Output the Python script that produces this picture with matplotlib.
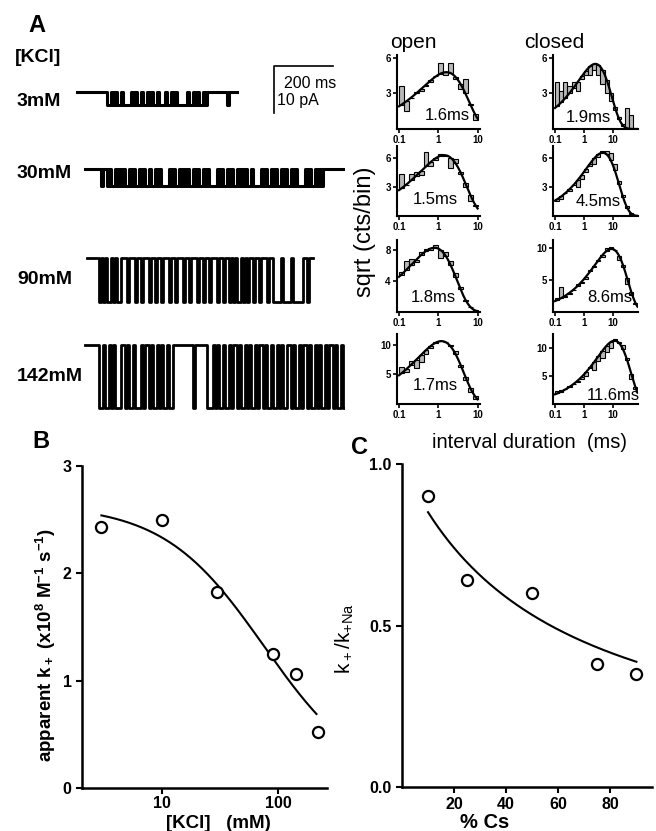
import numpy as np
import matplotlib
matplotlib.use('Agg')
import matplotlib.pyplot as plt
from matplotlib.patches import Rectangle

plt.rcParams['font.family'] = ['Liberation Sans', 'DejaVu Sans']
plt.rcParams['mathtext.default'] = 'regular'

W, H = 656, 831

# ---------------- data ----------------
# panel A, single-channel records (1 = upper level, 0 = lower level, 2 px per char)
CONC_LABELS = ['3mM', '30mM', '90mM', '142mM']
AMP_PA = [2.8, 3.6, 9.4, 13.4]
TRACES = [
    "111111111111111"
    "00101001000010100100101001000100101000001001010010"
    "111111111101111",
    "11111111"
    "0110100101" "0100101001" "0100100101" "0000101001" "0101001010"
    "0101000010" "1001010010" "1010010000" "1010010100" "1010010100"
    "0010100101" "0"
    "11111111111",
    "111111"
    "010100101001" "11011101101110" "1101101110110111011011101"
    "10110111011011" "0101001010" "110110111011" "000010000100000"
    "11011",
    "1111111"
    "0010010100" "0110100100" "0101101001" "010010011"
    "111111110111111"
    "0001010010" "0101101001" "0100101101" "0010010100" "1101001011"
    "0100101001" "011010010",
]

# dwell-time histograms, sqrt(counts/bin)
OPEN_COUNTS = [
    [3.6, 1.5, 2.6, 3.1, 3.2, 3.6, 4.0, 4.5, 5.6, 4.6, 5.6, 4.2, 3.4, 4.2, 2.0, 0.8],
    [4.4, 3.2, 4.4, 4.6, 4.2, 6.6, 5.2, 5.8, 6.4, 6.2, 5.0, 5.9, 4.4, 3.0, 1.6, 1.0],
    [5.2, 6.6, 6.8, 6.4, 7.8, 8.2, 8.0, 8.7, 7.0, 7.8, 6.6, 5.0, 3.2, 1.4, 0.6, 0.0],
    [6.3, 5.4, 7.3, 6.0, 7.0, 8.4, 9.4, 10.4, 10.6, 10.4, 10.0, 9.0, 6.2, 4.0, 2.0, 0.8],
]
CLOSED_COUNTS = [
    [4.0, 3.2, 4.0, 3.6, 4.0, 3.2, 4.2, 4.6, 4.6, 5.0, 4.6, 3.8, 3.0, 2.4, 1.6, 1.0, 0.4, 1.8, 1.2, 0.0],
    [1.6, 1.8, 2.4, 2.6, 3.2, 3.0, 3.9, 4.6, 5.2, 5.4, 6.2, 6.8, 6.8, 6.6, 5.4, 3.6, 2.2, 1.0, 0.3, 0.0],
    [2.2, 4.0, 2.4, 2.8, 3.4, 4.4, 4.6, 5.2, 6.6, 7.0, 8.0, 8.6, 10.0, 10.2, 9.8, 8.2, 7.0, 4.4, 2.6, 1.2],
    [2.4, 2.5, 2.6, 3.2, 3.6, 4.0, 4.4, 5.0, 6.4, 6.0, 7.6, 8.2, 9.2, 10.0, 11.6, 11.0, 10.6, 8.2, 4.4, 2.6],
]
# fitted curves: (peak time ms, peak height)
OPEN_FIT = [(1.6, 4.8), (1.4, 6.3), (0.8, 8.3), (1.2, 10.6)]
CLOSED_FIT = [(2.5, 5.5), (4.5, 6.6), (9.0, 9.9), (11.5, 11.3)]
TAU_OPEN = ['1.6ms', '1.5ms', '1.8ms', '1.7ms']
TAU_CLOSED = ['1.9ms', '4.5ms', '8.6ms', '11.6ms']
OPEN_YTICKS = [[3, 6], [3, 6], [4, 8], [5, 10]]
CLOSED_YTICKS = [[3, 6], [3, 6], [5, 10], [5, 10]]

# panel B
KCL_MM = [3, 10, 30, 90, 142, 220]
K_ON = [2.43, 2.50, 1.83, 1.25, 1.06, 0.52]
K_ON_MAX, K_HALF = 2.64, 76.0

# panel C
CS_PCT = [10, 25, 50, 75, 90]
K_RATIO = [0.90, 0.64, 0.60, 0.38, 0.35]
CS_HALF = 57.0


def add_ax(fig, left, top, right, bottom):
    return fig.add_axes([left / W, 1 - bottom / H, (right - left) / W, (bottom - top) / H])


def ftext(fig, x, y, s, **kw):
    fig.text(x / W, 1 - y / H, s, **kw)


def fit_curve(t, tp, amp):
    r = t / tp
    return amp * np.sqrt(r * np.exp(1 - r))


def style_axes(ax, lw=1.5):
    for side in ('top', 'right'):
        ax.spines[side].set_visible(False)
    for side in ('left', 'bottom'):
        ax.spines[side].set_linewidth(lw)


fig = plt.figure(figsize=(W / 100, H / 100), dpi=100)

# ---------------- panel A traces ----------------
MS_PER_PX = 200 / 59.0
PX_PER_PA = 4.7
axt = add_ax(fig, 70, 60, 345, 415)
axt.set_xlim(0, 275 * MS_PER_PX)
axt.set_ylim(-355 / PX_PER_PA, 0)
axt.axis('off')

top_px = [92, 169, 258, 345]
start_px = [77, 85, 87, 85]
trace_lw = [2.2, 2.2, 2.0, 2.0]
dt = 2 * MS_PER_PX
for trace, amp, ty, sx, lw in zip(TRACES, AMP_PA, top_px, start_px, trace_lw):
    bits = np.array([int(c) for c in trace])
    base = -(ty - 60) / PX_PER_PA
    lev = base - amp * (1 - bits)
    xs = (sx - 70) * MS_PER_PX + np.arange(len(bits) + 1) * dt
    axt.step(xs, np.append(lev, lev[-1]), where='post', color='k', lw=lw)

# scale bar
x0 = (274 - 70) * MS_PER_PX
y0 = -(66 - 60) / PX_PER_PA
axt.plot([x0 + 200, x0, x0], [y0, y0, y0 - 10], color='k', lw=1.2)
ftext(fig, 284, 84, '200 ms', fontsize=11.5, va='center')
ftext(fig, 277, 101, '10 pA', fontsize=11.5, va='center')

ftext(fig, 37, 25, 'A', fontsize=17, fontweight='heavy', ha='center', va='center')
ftext(fig, 15, 57, '[KCl]', fontsize=14, fontweight='bold', va='center')
for lab, ly in zip(CONC_LABELS, [101, 173, 280, 376]):
    ftext(fig, 17, ly, lab, fontsize=14, fontweight='bold', va='center')

# ---------------- histograms ----------------
open_edges = 10 ** np.linspace(-1, 1, 17)
closed_edges = 10 ** (-1 + np.arange(21) / 7.0)
rows = [(55, 129), (146, 216), (240, 312), (334, 404)]
ymaxes_open = [6.25, 7.25, 9.3, 11.8]
ymaxes_closed = [6.25, 7.3, 11.3, 12.5]
open_lab_xy = [(447, 115), (435, 200), (433, 297), (435, 385)]
closed_lab_xy = [(588, 117), (598, 202), (610, 297), (613, 396)]


def hist_panel(left, right, top, bottom, edges, counts, fit, ymax, yticks, xlim):
    ax = add_ax(fig, left, top, right, bottom)
    fit_at = fit_curve(np.sqrt(edges[:-1] * edges[1:]), *fit)
    for lo, hi, c, f in zip(edges[:-1], edges[1:], counts, fit_at):
        ax.add_patch(Rectangle((lo, min(c, f)), hi - lo, abs(c - f),
                               facecolor='#b8b8b8', edgecolor='k', lw=0.8))
    t = np.logspace(-1, np.log10(edges[-1]), 300)
    ax.plot(t, fit_curve(t, *fit), color='k', lw=1.6)
    ax.set_xscale('log')
    ax.set_xlim(*xlim)
    ax.set_ylim(0, ymax)
    ax.set_xticks([0.1, 1, 10])
    ax.set_xticklabels(['0.1', '1', '10'])
    ax.set_xticks([], minor=True)
    ax.set_yticks(yticks)
    ax.set_yticklabels([str(v) for v in yticks])
    ax.tick_params(direction='out', length=3, width=1.2, labelsize=7, pad=1.5)
    for lab in ax.get_xticklabels() + ax.get_yticklabels():
        lab.set_fontweight('bold')
    style_axes(ax, 1.5)
    return ax


for i, (top, bottom) in enumerate(rows):
    hist_panel(397, 480, top, bottom, open_edges, OPEN_COUNTS[i], OPEN_FIT[i],
               ymaxes_open[i], OPEN_YTICKS[i], (0.089, 11.5))
    hist_panel(553, 638, top, bottom, closed_edges, CLOSED_COUNTS[i], CLOSED_FIT[i],
               ymaxes_closed[i], CLOSED_YTICKS[i], (0.085, 75))
    ftext(fig, *open_lab_xy[i], TAU_OPEN[i], fontsize=12, ha='center', va='center')
    ftext(fig, *closed_lab_xy[i], TAU_CLOSED[i], fontsize=12, ha='center', va='center')

ftext(fig, 413, 43, 'open', fontsize=15, ha='center', va='center')
ftext(fig, 554, 43, 'closed', fontsize=15, ha='center', va='center')
ftext(fig, 365, 232, 'sqrt (cts/bin)', fontsize=17, rotation=90, ha='center', va='center')
ftext(fig, 530, 443, 'interval duration  (ms)', fontsize=14.5, ha='center', va='center')

# ---------------- panel B ----------------
axb = add_ax(fig, 82, 466, 327, 788)
c = np.logspace(np.log10(3), np.log10(215), 200)
axb.plot(c, K_ON_MAX / (1 + c / K_HALF), color='k', lw=1.5)
axb.plot(KCL_MM, K_ON, 'o', mfc='white', mec='k', ms=8, mew=1.6)
axb.set_xscale('log')
axb.set_xlim(2.04, 265)
axb.set_ylim(0, 3.0)
axb.set_xticks([10, 100])
axb.set_xticklabels(['10', '100'])
axb.set_xticks([], minor=True)
axb.set_yticks([0, 1, 2, 3])
axb.tick_params(direction='out', length=4, width=1.5, labelsize=11.5)
axb.tick_params(axis='x', pad=2)
for lab in axb.get_xticklabels() + axb.get_yticklabels():
    lab.set_fontweight('bold')
style_axes(axb, 1.8)
ftext(fig, 41, 441, 'B', fontsize=17, fontweight='heavy', ha='center', va='center')
ftext(fig, 46, 645, r'apparent k$_+$ (x10$^8$ M$^{-1}$ s$^{-1}$)', fontsize=13.5,
      fontweight='bold', rotation=90, ha='center', va='center')
ftext(fig, 218, 823, '[KCl]   (mM)', fontsize=13.5, fontweight='bold', ha='center', va='center')

# ---------------- panel C ----------------
axc = add_ax(fig, 402, 464, 652, 787)
x = np.linspace(10, 90, 200)
axc.plot(x, 1 / (1 + x / CS_HALF), color='k', lw=1.5)
axc.plot(CS_PCT, K_RATIO, 'o', mfc='white', mec='k', ms=8, mew=1.6)
axc.set_xlim(0, 96)
axc.set_ylim(0, 1.0)
axc.set_xticks([20, 40, 60, 80])
axc.set_yticks([0, 0.5, 1.0])
axc.set_yticklabels(['0.0', '0.5', '1.0'])
axc.tick_params(direction='out', length=4, width=1.5, labelsize=11.5)
for lab in axc.get_xticklabels() + axc.get_yticklabels():
    lab.set_fontweight('bold')
style_axes(axc, 1.8)
ftext(fig, 360, 447, 'C', fontsize=17, fontweight='heavy', ha='center', va='center')
ftext(fig, 345, 638, r'k$_+$/k$_{+Na}$', fontsize=15, rotation=90, ha='center', va='center')
ftext(fig, 485, 822, '% Cs', fontsize=14.5, fontweight='bold', ha='center', va='center')

fig.savefig('out.png', dpi=100)
